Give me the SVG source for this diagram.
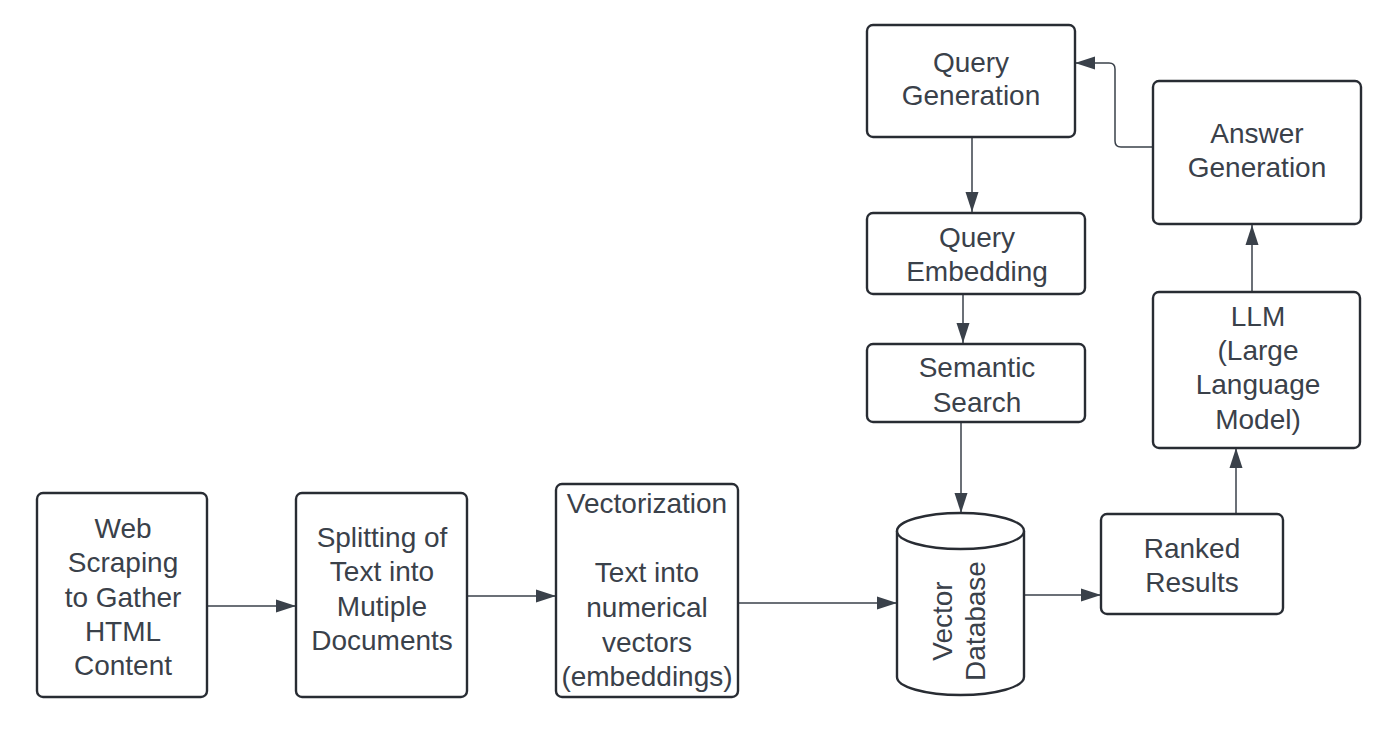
<svg xmlns="http://www.w3.org/2000/svg" width="1388" height="738" viewBox="0 0 1388 738">
<defs>
<style>
.box{fill:#ffffff;stroke:#282c33;stroke-width:2.4}
.t{font-family:"Liberation Sans",Arial,sans-serif;font-size:28px;fill:#3a414a;text-anchor:middle}
.c{fill:none;stroke:#3a414a;stroke-width:1.5}
</style>
<marker id="ah" markerUnits="userSpaceOnUse" markerWidth="20" markerHeight="14" refX="20" refY="7" orient="auto">
<path d="M0,0.5 L20,7 L0,13.5 Z" fill="#3a414a"/>
</marker>
</defs>
<rect width="1388" height="738" fill="#ffffff"/>
<g id="connectors">
<path class="c" d="M207,606 H296" marker-end="url(#ah)"/>
<path class="c" d="M467,596 H556" marker-end="url(#ah)"/>
<path class="c" d="M738,603 H897" marker-end="url(#ah)"/>
<path class="c" d="M1024,595 H1101" marker-end="url(#ah)"/>
<path class="c" d="M1236,514 V448" marker-end="url(#ah)"/>
<path class="c" d="M1252,292 V225" marker-end="url(#ah)"/>
<path class="c" d="M1153,147 H1121 Q1115,147 1115,141 V69 Q1115,63 1109,63 H1075" marker-end="url(#ah)"/>
<path class="c" d="M972,137 V212" marker-end="url(#ah)"/>
<path class="c" d="M963,294 V343" marker-end="url(#ah)"/>
<path class="c" d="M961,422 V513" marker-end="url(#ah)"/>
</g>
<g id="web-scraping">
<rect class="box" x="37" y="493" width="170" height="204" rx="6"/>
<text class="t"><tspan x="123" y="538">Web</tspan><tspan x="123" y="572">Scraping</tspan><tspan x="123" y="607">to Gather</tspan><tspan x="123" y="641">HTML</tspan><tspan x="123" y="675">Content</tspan></text>
</g>
<g id="splitting">
<rect class="box" x="296" y="493" width="171" height="204" rx="6"/>
<text class="t"><tspan x="382" y="547">Splitting of</tspan><tspan x="382" y="581">Text into</tspan><tspan x="382" y="616">Mutiple</tspan><tspan x="382" y="650">Documents</tspan></text>
</g>
<g id="vectorization">
<rect class="box" x="556" y="484" width="182" height="213" rx="6"/>
<text class="t"><tspan x="647" y="513">Vectorization</tspan><tspan x="647" y="582">Text into</tspan><tspan x="647" y="617">numerical</tspan><tspan x="647" y="652">vectors</tspan><tspan x="647" y="686">(embeddings)</tspan></text>
</g>
<g id="vector-database">
<path class="box" d="M897,531 V677 A63.5,18 0 0 0 1024,677 V531 A63.5,18 0 0 0 897,531 Z"/>
<path class="box" d="M897,531 A63.5,18 0 0 0 1024,531"/>
<g transform="translate(960,621) rotate(-90)">
<text class="t"><tspan x="0" y="-8">Vector</tspan><tspan x="0" y="25">Database</tspan></text>
</g>
</g>
<g id="ranked-results">
<rect class="box" x="1101" y="514" width="182" height="100" rx="6"/>
<text class="t"><tspan x="1192" y="558">Ranked</tspan><tspan x="1192" y="592">Results</tspan></text>
</g>
<g id="llm">
<rect class="box" x="1153" y="292" width="207" height="156" rx="6"/>
<text class="t"><tspan x="1258" y="326">LLM</tspan><tspan x="1258" y="360">(Large</tspan><tspan x="1258" y="394">Language</tspan><tspan x="1258" y="429">Model)</tspan></text>
</g>
<g id="answer-generation">
<rect class="box" x="1153" y="81" width="208" height="143" rx="6"/>
<text class="t"><tspan x="1257" y="143">Answer</tspan><tspan x="1257" y="177">Generation</tspan></text>
</g>
<g id="query-generation">
<rect class="box" x="867" y="25" width="208" height="112" rx="6"/>
<text class="t"><tspan x="971" y="72">Query</tspan><tspan x="971" y="105">Generation</tspan></text>
</g>
<g id="query-embedding">
<rect class="box" x="867" y="213" width="218" height="81" rx="6"/>
<text class="t"><tspan x="977" y="247">Query</tspan><tspan x="977" y="281">Embedding</tspan></text>
</g>
<g id="semantic-search">
<rect class="box" x="867" y="344" width="218" height="78" rx="6"/>
<text class="t"><tspan x="977" y="377">Semantic</tspan><tspan x="977" y="412">Search</tspan></text>
</g>
</svg>
